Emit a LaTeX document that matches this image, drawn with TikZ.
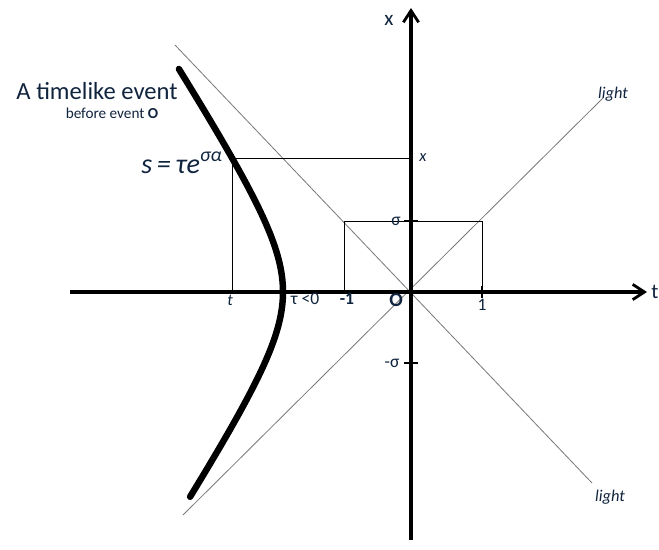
\documentclass[tikz,border=0pt]{standalone}
\usepackage{fontspec}
\setmainfont{Carlito}
\usetikzlibrary{arrows.meta}
\definecolor{ink}{HTML}{000000}
\definecolor{raygray}{HTML}{7A7A7A}
\definecolor{labelblue}{HTML}{10243E}
\tikzset{>={Straight Barb[length=10pt,width=13pt,line width=2.4pt]},axis/.style={->,line width=3.4pt,ink},ray/.style={raygray,line width=0.7pt},guide/.style={line width=0.6pt,ink},worldline/.style={line width=5.5pt,line cap=round,ink},ticklbl/.style={font=\fontsize{15}{17}\selectfont,text=labelblue},lightlbl/.style={font=\fontsize{14}{16}\selectfont\itshape,text=labelblue},tick/.style={line width=2.4pt,ink}}

\begin{document}
\begin{tikzpicture}[x=0.03cm,y=-0.03cm]
\useasboundingbox (0,0) rectangle (659,550);
\coordinate (O) at (411,292);
\coordinate (P) at (232,158);
% light cone
\draw[ray] (175,45)--(592,483);\draw[ray] (183,515)--(603,98);
% guides
\draw[guide] (P)--(P|-O);\draw[guide] (P)--(O|-P);
\draw[guide] (344,292)--(344,221)--(482,221)--(482,292);
% axes
\draw[axis] (70,292)--(647,292);\draw[axis] (411,540)--(411,8);
\draw[tick] (404,221)--(418,221);\draw[tick] (404,363)--(418,363);
\draw[tick] (482,286)--(482,298);
% world line
\draw[worldline] plot[domain=-1.8:1.72,samples=70,smooth] ({332.4-49.4*cosh(\x)},{292+75.8*sinh(\x)});
% labels
\node[ticklbl,font=\fontsize{18}{20}\selectfont] (xlbl) at (389,20) {x};
\node[ticklbl,font=\fontsize{18}{20}\selectfont] (tlbl) at (655,292) {t};
\node[lightlbl] (lighttop) at (613,94) {light};
\node[lightlbl] (lightbot) at (610,497) {light};
\node[ticklbl,font=\fontsize{14}{16}\selectfont\itshape] (xval) at (423,158) {x};
\node[ticklbl,font=\fontsize{14}{16}\selectfont\itshape] (tval) at (230,300) {t};
\node[ticklbl] (sig) at (396,221) {σ};
\node[ticklbl] (msig) at (392,363) {-σ};
\node[ticklbl] (one) at (482,305) {1};
\node[ticklbl,font=\fontsize{15}{17}\selectfont\bfseries] (mone) at (347,299) {-1};
\node[ticklbl,font=\fontsize{17}{19}\selectfont\bfseries] (olbl) at (396,300) {O};
\node[ticklbl] (tau) at (305,299) {τ <0};
\node[font=\fontsize{21}{24}\selectfont,text=labelblue] (ev) at (97,91) {A timelike event};
\node[font=\fontsize{13}{15}\selectfont,text=labelblue] (bef) at (112,113) {before event \textbf{O}};
\node[font=\fontsize{24}{26}\selectfont\itshape,text=labelblue,anchor=east] (sform) at (226,163) {s\,=\,τe\raisebox{0.85ex}{\fontsize{17}{19}\selectfont σα}};
\end{tikzpicture}
\end{document}
